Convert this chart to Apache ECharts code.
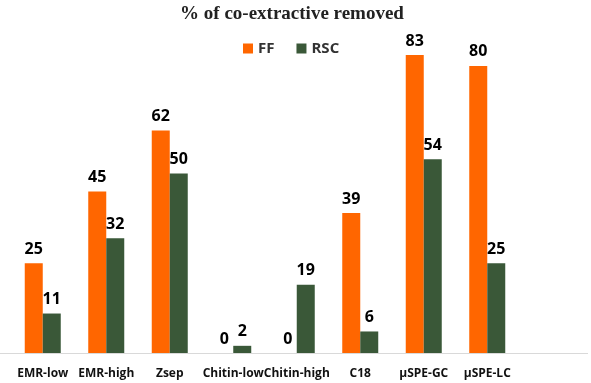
<!DOCTYPE html>
<html>
<head>
<meta charset="utf-8">
<script src="https://cdn.jsdelivr.net/npm/echarts@6/dist/echarts.min.js"></script>
<style>
  html, body { margin: 0; padding: 0; background: #fff; }
  #main { width: 591px; height: 383px; }
</style>
</head>
<body>
<div id="main"></div>
<script>
// categories and values
var categories = ["EMR-low", "EMR-high", "Zsep", "Chitin-low", "Chitin-high", "C18", "\u00b5SPE-GC", "\u00b5SPE-LC"];
var ffValues = [25, 45, 62, 0, 0, 39, 83, 80];
var rscValues = [11, 32, 50, 2, 19, 6, 54, 25];

var labelStyle = {
  show: true,
  position: "top",
  distance: 6,
  color: "#000",
  fontWeight: "bold",
  fontSize: 16,
  fontFamily: "Open Sans"
};

var myChart = echarts.init(document.getElementById("main"));
myChart.setOption({
  animation: false,
  title: {
    text: "% of co-extractive removed",
    left: 287,
    textAlign: "center",
    top: 0,
    textStyle: {
      fontFamily: "Liberation Serif",
      fontWeight: "bold",
      fontSize: 19,
      color: "#222"
    }
  },
  legend: {
    data: ["FF", "RSC"],
    left: 238,
    top: 36,
    icon: "rect",
    itemWidth: 10,
    itemHeight: 10,
    itemGap: 22,
    textStyle: {
      fontFamily: "Open Sans",
      fontWeight: "bold",
      fontSize: 15,
      color: "#333"
    }
  },
  grid: {
    left: 11,
    right: 72,
    top: 30,
    bottom: 30
  },
  xAxis: {
    type: "category",
    data: categories,
    axisLine: { show: false },
    axisTick: { show: false },
    axisLabel: {
      interval: 0,
      margin: 15,
      color: "#111",
      fontWeight: "bold",
      fontSize: 12,
      fontFamily: "Open Sans"
    }
  },
  yAxis: {
    type: "value",
    min: 0,
    max: 90,
    show: false,
    splitLine: { show: false }
  },
  graphic: [
    {
      type: "line",
      shape: { x1: 0, y1: 353.5, x2: 588, y2: 353.5 },
      style: { stroke: "#d9d9d9", lineWidth: 1 }
    }
  ],
  series: [
    {
      name: "FF",
      type: "bar",
      data: ffValues,
      barWidth: 18,
      barGap: "0%",
      itemStyle: { color: "#FF6600" },
      label: labelStyle
    },
    {
      name: "RSC",
      type: "bar",
      data: rscValues,
      barWidth: 18,
      itemStyle: { color: "#3A5838" },
      label: labelStyle
    }
  ]
});
</script>
</body>
</html>
